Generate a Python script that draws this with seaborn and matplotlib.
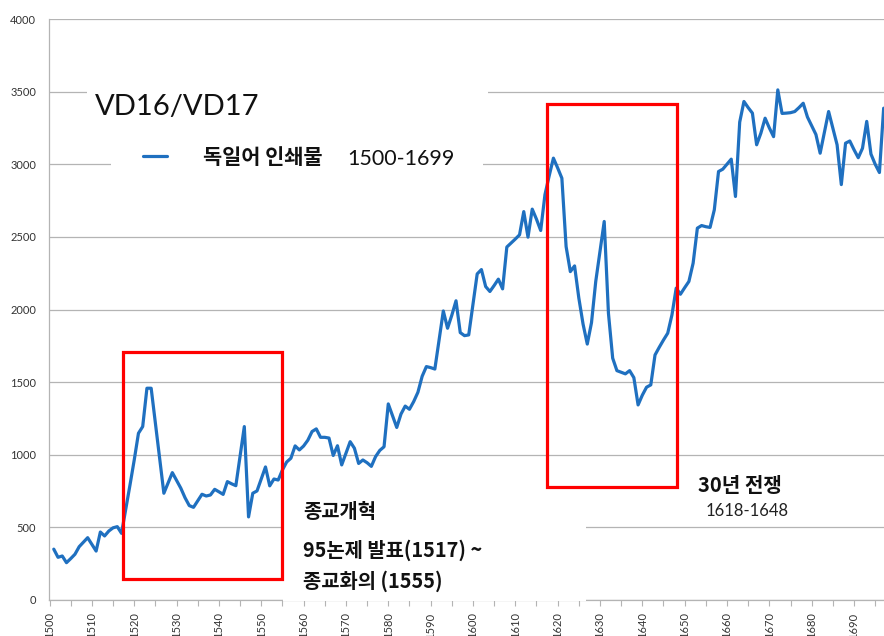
import matplotlib
matplotlib.use("Agg")
import matplotlib.pyplot as plt
import seaborn as sns
import pandas as pd
from matplotlib.patches import Rectangle
from matplotlib.lines import Line2D

# ---------------- data ----------------
years = list(range(1501, 1698))
values_1500s = [350, 294, 303, 257, 285, 315, 367, 398, 429, 383,      # 1501-1510
                337, 468, 441, 475, 497, 505, 459, 625, 792, 964,      # 1511-1520
                1148, 1194, 1458, 1458, 1217, 976, 735, 806, 877, 823,  # 1521-1530
                770, 704, 650, 638, 683, 728, 716, 723, 762, 745,      # 1531-1540
                727, 815, 800, 787, 990, 1194, 572, 735, 751, 833,     # 1541-1550
                916, 786, 833, 826, 895, 950, 976, 1061, 1033, 1060,   # 1551-1560
                1100, 1160, 1178, 1120, 1120, 1115, 995, 1062, 930, 1010,  # 1561-1570
                1090, 1045, 940, 964, 945, 920, 987, 1030, 1055, 1350,     # 1571-1580
                1270, 1188, 1280, 1335, 1313, 1366, 1430, 1540, 1607, 1600,  # 1581-1590
                1590, 1790, 1990, 1871, 1960, 2060, 1841, 1820, 1825]        # 1591-1599
values_1600s = [2035, 2245, 2275, 2158, 2124, 2165, 2209, 2142, 2430, 2457,  # 1600-1609
                2485, 2514, 2674, 2498, 2691, 2622, 2544, 2790, 2920, 3042,  # 1610-1619
                2975, 2904, 2433, 2261, 2300, 2080, 1900, 1762, 1910, 2193,  # 1620-1629
                2400, 2606, 1974, 1665, 1579, 1568, 1557, 1579, 1531, 1343,  # 1630-1639
                1410, 1465, 1481, 1687, 1740, 1790, 1837, 1963, 2147, 2105,  # 1640-1649
                2150, 2193, 2319, 2560, 2578, 2570, 2565, 2686, 2950, 2966,  # 1650-1659
                3000, 3035, 2778, 3290, 3432, 3390, 3352, 3134, 3214, 3317,  # 1660-1669
                3250, 3190, 3512, 3350, 3352, 3355, 3363, 3390, 3420, 3325,  # 1670-1679
                3265, 3205, 3076, 3220, 3363, 3250, 3134, 2860, 3145, 3160,  # 1680-1689
                3100, 3045, 3110, 3295, 3070, 3000, 2943, 3386]              # 1690-1697
counts = values_1500s + values_1600s

y_ticks = [0, 500, 1000, 1500, 2000, 2500, 3000, 3500, 4000]
x_ticks = [1500, 1510, 1520, 1530, 1540, 1550, 1560, 1570, 1580, 1590,
           1600, 1610, 1620, 1630, 1640, 1650, 1660, 1670, 1680, 1690]
x_minor_ticks = [1505, 1515, 1525, 1535, 1545, 1555, 1565, 1575, 1585, 1595,
                 1605, 1615, 1625, 1635, 1645, 1655, 1665, 1675, 1685, 1695]

title_text = "VD16/VD17"
series_label = "독일어 인쇄물"
series_range = "1500-1699"
reform_lines = ["종교개혁", "95논제 발표(1517) ~", "종교화의 (1555)"]
war_title = "30년 전쟁"
war_range = "1618-1648"

# highlighted periods (year span, value span)
reform_box = (1517.24, 1554.85, 143, 1710)
war_box = (1617.6, 1648.3, 776, 3414)

df = pd.DataFrame({"year": years, "count": counts})

# ---------------- figure ----------------
sns.set_style("white")
plt.rcParams["font.family"] = ["Noto Sans CJK KR", "DejaVu Sans"]

W, H = 884, 636
fig = plt.figure(figsize=(W / 100, H / 100), dpi=100)
ax = fig.add_axes([48.7 / W, (H - 600) / H, (W - 48.7) / W, (600 - 19) / H])

GRID = "#b4b4b4"
BLUE = "#1f70c0"

sns.lineplot(data=df, x="year", y="count", color=BLUE, linewidth=2.3,
             ax=ax, legend=False, zorder=2)

ax.set_xlim(1499.8, 1697.08)
ax.set_ylim(0, 4000)
ax.set_xlabel("")
ax.set_ylabel("")

ax.set_yticks(y_ticks)
ax.set_yticklabels([str(v) for v in y_ticks], fontsize=8, color="#333333",
                   family=["Lato", "DejaVu Sans"])
ax.set_xticks(x_ticks)
ax.set_xticklabels([str(v) for v in x_ticks], rotation=90, fontsize=8,
                   color="#333333", family=["Lato", "DejaVu Sans"])
ax.set_xticks(x_minor_ticks, minor=True)
ax.tick_params(axis="y", length=0, pad=9)
ax.tick_params(axis="x", which="both", length=4, width=0.8, color=GRID,
               direction="out", pad=5)
ax.tick_params(axis="x", which="major", bottom=True)
ax.tick_params(axis="x", which="minor", bottom=True)

ax.set_axisbelow(True)
ax.grid(axis="y", color=GRID, linewidth=0.9)
ax.grid(axis="x", visible=False)
for side in ["top", "right"]:
    ax.spines[side].set_visible(False)
for side in ["left", "bottom"]:
    ax.spines[side].set_color(GRID)
    ax.spines[side].set_linewidth(0.9)

# red highlight boxes
for (x0, x1, y0, y1) in (reform_box, war_box):
    ax.add_patch(Rectangle((x0, y0), x1 - x0, y1 - y0, fill=False,
                           edgecolor="#ff0000", linewidth=2.3, zorder=3))


def fx(x):
    return x / W


def fy(y):
    return 1 - y / H


# white backgrounds of the text boxes (hide gridlines like the original)
for (x0, y0, x1, y1) in [(87, 78, 488, 126), (111, 138, 483, 186), (283, 495, 586, 601)]:
    ax.add_patch(Rectangle((fx(x0), fy(y1)), fx(x1) - fx(x0), fy(y0) - fy(y1),
                           transform=fig.transFigure, facecolor="white",
                           edgecolor="none", zorder=2.6, clip_on=False))

# title
fig.text(fx(95), fy(115), title_text, fontsize=21, ha="left", va="baseline",
         family=["Lato", "DejaVu Sans"], color="#111111")

# legend
fig.add_artist(Line2D([fx(143), fx(167)], [fy(156), fy(156)], color=BLUE,
                      linewidth=2.3, transform=fig.transFigure))
fig.text(fx(203), fy(157), series_label, fontsize=15, fontweight="bold",
         ha="left", va="center", color="#111111")
fig.text(fx(347), fy(165), series_range, fontsize=15.5, ha="left",
         va="baseline", family=["Lato", "DejaVu Sans"], color="#111111")

# reformation annotation
for txt, yc in zip(reform_lines, [511, 550, 581]):
    fig.text(fx(303), fy(yc), txt, fontsize=14.3, fontweight="bold",
             ha="left", va="center", color="#111111")

# thirty years war annotation
fig.text(fx(698), fy(485), war_title, fontsize=14.5, fontweight="bold",
         ha="left", va="center", color="#111111")
fig.text(fx(706), fy(516), war_range, fontsize=12, ha="left", va="baseline",
         family=["Lato", "DejaVu Sans"], color="#222222")

fig.savefig("out.png", dpi=100)
